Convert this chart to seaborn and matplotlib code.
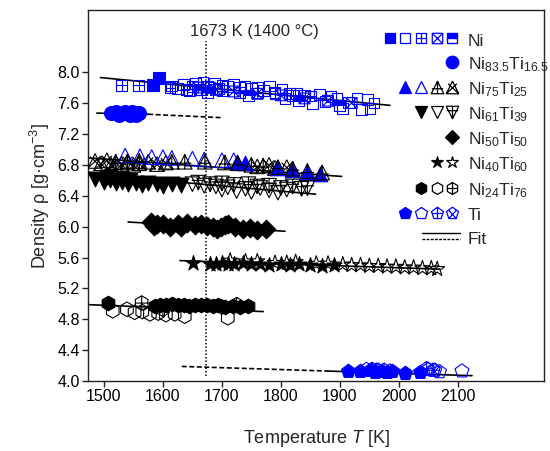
import numpy as np
import matplotlib
matplotlib.use('Agg')
import matplotlib.pyplot as plt
import seaborn as sns
from matplotlib.path import Path
from matplotlib.lines import Line2D
from matplotlib.legend_handler import HandlerBase

sns.set_style('ticks')
plt.rcParams['font.family'] = ['Liberation Sans', 'DejaVu Sans']
plt.rcParams['mathtext.fontset'] = 'custom'
plt.rcParams['mathtext.rm'] = 'Liberation Sans'
plt.rcParams['mathtext.it'] = 'Liberation Sans:italic'
plt.rcParams['mathtext.bf'] = 'Liberation Sans:bold'

BLUE = '#0000ff'
BLACK = '#000000'

# ---------------- data ----------------
# Ni
ni_fill_T = [1583, 1593]
ni_fill_r = [7.83, 7.93]
ni_open_T = [1615, 1625, 1635, 1645, 1650, 1655, 1662, 1668, 1675, 1680, 1688, 1695, 1700, 1710,
             1720, 1730, 1739, 1750, 1761, 1770, 1781, 1790, 1802, 1807, 1815, 1827, 1840, 1854,
             1866, 1875, 1885, 1895, 1905, 1915, 1929, 1937, 1947, 1951, 1958]
ni_open_r = [7.82, 7.79, 7.84, 7.76, 7.81, 7.85, 7.78, 7.87, 7.82, 7.80, 7.86, 7.79, 7.83, 7.81,
             7.84, 7.80, 7.82, 7.79, 7.80, 7.76, 7.82, 7.74, 7.78, 7.66, 7.72, 7.72, 7.70, 7.59,
             7.71, 7.62, 7.68, 7.66, 7.53, 7.61, 7.66, 7.52, 7.65, 7.53, 7.60]
ni_plus_T = [1530, 1559, 1583, 1612, 1640, 1665, 1700, 1730, 1760, 1790, 1820, 1850]
ni_plus_r = [7.83, 7.83, 7.82, 7.80, 7.78, 7.77, 7.76, 7.74, 7.73, 7.72, 7.70, 7.69]
ni_x_T = [1660, 1690, 1720, 1760, 1800, 1840, 1880, 1920]
ni_x_r = [7.80, 7.77, 7.75, 7.72, 7.70, 7.66, 7.63, 7.60]
ni_half_T = [1675, 1745, 1830, 1900]
ni_half_r = [7.74, 7.70, 7.63, 7.57]
ni_fit_T = [1494, 1985]
ni_fit_r = [7.93, 7.57]

# Ni83.5Ti16.5
n835_T = [1512, 1520, 1525, 1528, 1535, 1542, 1545, 1548, 1555, 1560]
n835_r = [7.47, 7.49, 7.44, 7.46, 7.48, 7.47, 7.44, 7.49, 7.45, 7.47]
n835_fit_T = [1488, 1575]
n835_fit_r = [7.47, 7.455]
n835_ext_T = [1575, 1702]
n835_ext_r = [7.455, 7.41]

# Ni75Ti25
n75_fill_T = [1725, 1740, 1793, 1819, 1844, 1866]
n75_fill_r = [6.84, 6.83, 6.76, 6.73, 6.70, 6.68]
n75_open_T = [1536, 1561, 1581, 1600, 1615, 1650, 1670, 1700, 1720]
n75_open_r = [6.92, 6.91, 6.90, 6.90, 6.89, 6.88, 6.87, 6.86, 6.86]
n75_plus_T = [1520, 1540, 1560, 1615, 1637, 1671, 1705, 1727, 1750, 1770, 1795, 1820, 1845, 1870]
n75_plus_r = [6.84, 6.83, 6.85, 6.84, 6.84, 6.84, 6.83, 6.82, 6.80, 6.79, 6.77, 6.75, 6.72, 6.70]
n75_x_T = [1485, 1495, 1505, 1512, 1520, 1530, 1540, 1550, 1560, 1575, 1590, 1605, 1760, 1780, 1790, 1810]
n75_x_r = [6.85, 6.82, 6.86, 6.80, 6.83, 6.81, 6.85, 6.80, 6.82, 6.84, 6.81, 6.83, 6.78, 6.80, 6.76, 6.77]
n75_fit_T = [1473, 1903]
n75_fit_r = [6.89, 6.65]

# Ni61Ti39
n61_fill_T = [1485, 1500, 1505, 1510, 1520, 1530, 1530, 1540, 1545, 1555, 1565, 1575, 1590, 1600, 1615, 1630]
n61_fill_r = [6.62, 6.58, 6.64, 6.60, 6.56, 6.58, 6.62, 6.55, 6.60, 6.57, 6.54, 6.57, 6.55, 6.53, 6.55, 6.54]
n61_open_T = [1650, 1670, 1690, 1700, 1710, 1725, 1740, 1750, 1765, 1780, 1795, 1810]
n61_open_r = [6.55, 6.53, 6.52, 6.48, 6.51, 6.46, 6.49, 6.45, 6.50, 6.47, 6.44, 6.48]
n61_plus_T = [1660, 1680, 1700, 1720, 1745, 1760, 1780, 1800, 1820, 1835, 1845]
n61_plus_r = [6.57, 6.55, 6.56, 6.54, 6.55, 6.52, 6.53, 6.50, 6.52, 6.49, 6.50]
n61_fit_T = [1473, 1859]
n61_fit_r = [6.68, 6.42]

# Ni50Ti50
n50_T = [1580, 1585, 1590, 1600, 1612, 1625, 1630, 1640, 1655, 1665, 1675, 1685, 1692, 1698,
         1705, 1710, 1722, 1735, 1748, 1760, 1775]
n50_r = [6.06, 6.01, 6.04, 6.03, 6.00, 6.04, 6.00, 6.05, 6.02, 6.03, 6.01, 6.00, 5.97, 5.99,
         6.02, 6.04, 5.99, 5.97, 5.98, 5.96, 5.97]
n50_fit_T = [1541, 1807]
n50_fit_r = [6.06, 5.94]

# Ni40Ti60
n40_fill_T = [1651, 1680, 1690, 1700, 1710, 1720, 1735, 1750, 1765, 1780, 1800, 1815, 1830, 1850, 1870, 1890]
n40_fill_r = [5.53, 5.52, 5.52, 5.53, 5.51, 5.52, 5.53, 5.51, 5.52, 5.50, 5.51, 5.50, 5.52, 5.50, 5.49, 5.50]
n40_open_T = [1714, 1740, 1760, 1790, 1810, 1825, 1860, 1880, 1905, 1920, 1935, 1950, 1965, 1980,
              1995, 2010, 2025, 2040, 2055, 2065]
n40_open_r = [5.56, 5.55, 5.55, 5.53, 5.53, 5.54, 5.52, 5.52, 5.51, 5.50, 5.50, 5.49, 5.49, 5.48,
              5.48, 5.47, 5.47, 5.46, 5.46, 5.45]
n40_fit_T = [1629, 2069]
n40_fit_r = [5.56, 5.45]

# Ni24Ti76
n24_fill_T = [1507, 1586, 1595, 1605, 1615, 1625, 1635, 1645, 1655, 1665, 1675, 1685, 1693, 1705, 1718, 1730, 1744]
n24_fill_r = [5.01, 4.97, 4.99, 4.98, 5.00, 4.98, 4.99, 4.97, 4.99, 4.98, 4.98, 4.97, 4.98, 4.96, 4.97, 4.96, 4.97]
n24_open_T = [1515, 1539, 1552, 1565, 1578, 1592, 1605, 1620, 1637, 1710]
n24_open_r = [4.91, 4.93, 4.89, 4.90, 4.87, 4.88, 4.86, 4.87, 4.84, 4.82]
n24_plus_T = [1564, 1600, 1700, 1725]
n24_plus_r = [5.01, 4.93, 4.96, 4.99]
n24_fit_T = [1473, 1770]
n24_fit_r = [4.99, 4.90]

# Ti
ti_fill_T = [1914, 1934, 1951, 1960, 1970, 1980, 1988, 2010, 2036]
ti_fill_r = [4.13, 4.13, 4.14, 4.12, 4.13, 4.12, 4.13, 4.11, 4.12]
ti_open_T = [1945, 1965, 1985, 2050, 2069, 2107]
ti_open_r = [4.15, 4.14, 4.13, 4.15, 4.12, 4.13]
ti_plus_T = [1955, 1975, 2047, 2058]
ti_plus_r = [4.15, 4.14, 4.16, 4.14]
ti_x_T = [1962, 2061]
ti_x_r = [4.14, 4.14]
ti_fit_T = [1880, 2124]
ti_fit_r = [4.13, 4.07]
ti_ext_T = [1632, 1880]
ti_ext_r = [4.19, 4.13]

T_ref = 1673
ref_label = '1673 K (1400 °C)'
xticks = [1500, 1600, 1700, 1800, 1900, 2000, 2100]
yticks = [4.0, 4.4, 4.8, 5.2, 5.6, 6.0, 6.4, 6.8, 7.2, 7.6, 8.0]

# ---------------- markers ----------------
def mk(outline, lines=()):
    verts = list(outline) + [outline[0]]
    codes = [Path.MOVETO] + [Path.LINETO] * (len(outline) - 1) + [Path.CLOSEPOLY]
    for a, b in lines:
        verts += [a, b]
        codes += [Path.MOVETO, Path.LINETO]
    return Path(verts, codes)

SQ = [(-1, -1), (1, -1), (1, 1), (-1, 1)]
TRI = [(0, 1), (-1, -1), (1, -1)]
TRID = [(0, -1), (1, 1), (-1, 1)]
HEX = [(np.cos(np.radians(90 + 60 * k)), np.sin(np.radians(90 + 60 * k))) for k in range(6)]
PEN = [(np.cos(np.radians(90 + 72 * k)), np.sin(np.radians(90 + 72 * k))) for k in range(5)]

M_SQPLUS = mk(SQ, [((0, -1), (0, 1)), ((-1, 0), (1, 0))])
M_SQX = mk(SQ, [((-1, -1), (1, 1)), ((-1, 1), (1, -1))])
M_SQOUT = mk(SQ)
M_HALF = mk([(-1, 0), (1, 0), (1, 1), (-1, 1)])
M_TRIPLUS = mk(TRI, [((0, 1), (0, -1)), ((-0.9, -0.2), (0.9, -0.2))])
M_TRIX = mk(TRI, [((-1, -1), (0.7, 0.6)), ((1, -1), (-0.7, 0.6))])
M_TRIDPLUS = mk(TRID, [((0, -1), (0, 1)), ((-0.9, 0.3), (0.9, 0.3))])
M_HEXPLUS = mk(HEX, [((0, -1), (0, 1)), ((-0.866, 0), (0.866, 0))])
M_PENPLUS = mk(PEN, [((0, 1), (0, -0.809)), ((-0.9, 0.0), (0.9, 0.0))])
M_PENX = mk(PEN, [((-0.588, -0.809), (0.6, 0.5)), ((0.588, -0.809), (-0.6, 0.5))])

fig = plt.figure(figsize=(5.5, 4.51), dpi=100)
ax = fig.add_axes([0.16, 0.155, 0.829, 0.822])


def pts(T, r, marker, color, filled, s, lw=0.8, z=3):
    sns.scatterplot(x=T, y=r, marker=marker, s=s, color=color,
                    facecolor=color if filled else 'none', edgecolor=color,
                    linewidth=lw, ax=ax, legend=False, zorder=z)


def fit(T, r, ls='-'):
    ax.plot(T, r, color='k', lw=1.2, ls=ls, zorder=2,
            dashes=(3, 1.5) if ls == '--' else (None, None))


# fits
fit(ni_fit_T, ni_fit_r)
fit(n835_fit_T, n835_fit_r)
fit(n835_ext_T, n835_ext_r, '--')
fit(n75_fit_T, n75_fit_r)
fit(n61_fit_T, n61_fit_r)
fit(n50_fit_T, n50_fit_r)
fit(n40_fit_T, n40_fit_r)
fit(n24_fit_T, n24_fit_r)
fit(ti_fit_T, ti_fit_r)
fit(ti_ext_T, ti_ext_r, '--')
ax.plot([T_ref, T_ref], [4.07, 8.40], color='k', lw=1.1, ls=(0, (1, 1.3)), zorder=2)

# Ni
pts(ni_open_T, ni_open_r, 's', BLUE, False, 60)
pts(ni_plus_T, ni_plus_r, M_SQPLUS, BLUE, False, 60)
pts(ni_x_T, ni_x_r, M_SQX, BLUE, False, 60)
pts(ni_half_T, ni_half_r, M_HALF, BLUE, True, 60)
pts(ni_half_T, ni_half_r, M_SQOUT, BLUE, False, 60)
pts(ni_fill_T, ni_fill_r, 's', BLUE, True, 85)
# Ni83.5Ti16.5
pts(n835_T, n835_r, 'o', BLUE, True, 100)
# Ni75Ti25
pts(n75_x_T, n75_x_r, M_TRIX, BLACK, False, 110)
pts(n75_open_T, n75_open_r, '^', BLUE, False, 110)
pts(n75_fill_T, n75_fill_r, '^', BLUE, True, 110)
pts(n75_plus_T, n75_plus_r, M_TRIPLUS, BLACK, False, 110)
# Ni61Ti39
pts(n61_fill_T, n61_fill_r, 'v', BLACK, True, 115)
pts(n61_open_T, n61_open_r, 'v', BLACK, False, 110)
pts(n61_plus_T, n61_plus_r, M_TRIDPLUS, BLACK, False, 110)
# Ni50Ti50
pts(n50_T, n50_r, 'D', BLACK, True, 90)
# Ni40Ti60
pts(n40_open_T, n40_open_r, '*', BLACK, False, 130)
pts(n40_fill_T, n40_fill_r, '*', BLACK, True, 130)
# Ni24Ti76
pts(n24_open_T, n24_open_r, 'h', BLACK, False, 110)
pts(n24_fill_T, n24_fill_r, 'h', BLACK, True, 110)
pts(n24_plus_T, n24_plus_r, M_HEXPLUS, BLACK, False, 110)
# Ti
pts(ti_fill_T, ti_fill_r, 'p', BLUE, True, 110)
pts(ti_open_T, ti_open_r, 'p', BLUE, False, 110)
pts(ti_plus_T, ti_plus_r, M_PENPLUS, BLUE, False, 110)
pts(ti_x_T, ti_x_r, M_PENX, BLUE, False, 110)

ax.set_xlim(1473, 2246)
ax.set_ylim(4.0, 8.8)
ax.set_xticks(xticks)
ax.set_yticks(yticks)
ax.set_yticklabels([f'{v:.1f}' for v in yticks])
ax.tick_params(axis='both', labelsize=11.5, direction='out', length=4, width=1.0, pad=2,
               colors='#222222', labelcolor='black')
for sp in ax.spines.values():
    sp.set_linewidth(1.0)
    sp.set_color('#222222')
    sp.set_visible(True)
ax.set_xlabel('Temperature $\\it{T}$ [K]', fontsize=13, labelpad=17)
ax.set_ylabel('Density ρ [g·cm$^{-3}$]', fontsize=13, labelpad=4)
ax.text(1756, 8.53, ref_label, ha='center', va='center', fontsize=12)


# ---------------- legend ----------------
class RowHandler(HandlerBase):
    def __init__(self, specs, slot=11.2, fit=False):
        super().__init__()
        self.specs = specs
        self.slot = slot
        self.fit = fit

    def create_artists(self, legend, orig_handle, xdescent, ydescent, width, height, fontsize, trans):
        yc = (height - ydescent) / 2
        right = -xdescent + width
        arts = []
        if self.fit:
            x0 = right - 27
            arts.append(Line2D([x0, right], [yc + 2.2, yc + 2.2], color='k', lw=1.0, transform=trans))
            arts.append(Line2D([x0, right], [yc - 2.2, yc - 2.2], color='k', lw=1.0,
                               ls=(0, (2, 1)), transform=trans))
            return arts
        n = len(self.specs)
        for i, sp in enumerate(self.specs):
            x = right - self.slot * (n - i - 0.5)
            arts.append(Line2D([x], [yc], linestyle='none', transform=trans, **sp))
        return arts


def spec(marker, color, filled, ms=7.5, mew=0.9):
    return dict(marker=marker, color=color, markersize=ms, markeredgewidth=mew,
                markerfacecolor=color if filled else 'none', markeredgecolor=color)


rows = [
    ('Ni', [spec('s', BLUE, True, 7.5), spec('s', BLUE, False, 7.5), spec(M_SQPLUS, BLUE, False, 7.5),
            spec(M_SQX, BLUE, False, 7.5), dict(marker='s', color=BLUE, markersize=7.5, fillstyle='top',
                                               markerfacecoloralt='white', markeredgecolor=BLUE)]),
    ('Ni$_{83.5}$Ti$_{16.5}$', [spec('o', BLUE, True, 9)]),
    ('Ni$_{75}$Ti$_{25}$', [spec('^', BLUE, True, 9), spec('^', BLUE, False, 9),
                           spec(M_TRIPLUS, BLACK, False, 9), spec(M_TRIX, BLACK, False, 9)]),
    ('Ni$_{61}$Ti$_{39}$', [spec('v', BLACK, True, 9), spec('v', BLACK, False, 9),
                           spec(M_TRIDPLUS, BLACK, False, 9)]),
    ('Ni$_{50}$Ti$_{50}$', [spec('D', BLACK, True, 7.5)]),
    ('Ni$_{40}$Ti$_{60}$', [spec('*', BLACK, True, 9), spec('*', BLACK, False, 9)]),
    ('Ni$_{24}$Ti$_{76}$', [spec('h', BLACK, True, 8.5), spec('h', BLACK, False, 8.5),
                           spec(M_HEXPLUS, BLACK, False, 8.5)]),
    ('Ti', [spec('p', BLUE, True, 9), spec('p', BLUE, False, 9), spec(M_PENPLUS, BLUE, False, 9),
            spec(M_PENX, BLUE, False, 9)]),
]

handles, labels, hmap = [], [], {}
for lab, specs in rows:
    h = Line2D([], [])
    handles.append(h)
    labels.append(lab)
    hmap[h] = RowHandler(specs)
hf = Line2D([], [])
handles.append(hf)
labels.append('Fit')
hmap[hf] = RowHandler([], fit=True)

fs = 12.5
leg = ax.legend(handles, labels, handler_map=hmap, loc='upper left',
                bbox_to_anchor=(0.645, 0.945), frameon=False, fontsize=fs,
                handlelength=56 / fs, handleheight=1.2, handletextpad=0.45,
                labelspacing=0.33, borderpad=0, borderaxespad=0)

fig.savefig('out.png', dpi=100)
